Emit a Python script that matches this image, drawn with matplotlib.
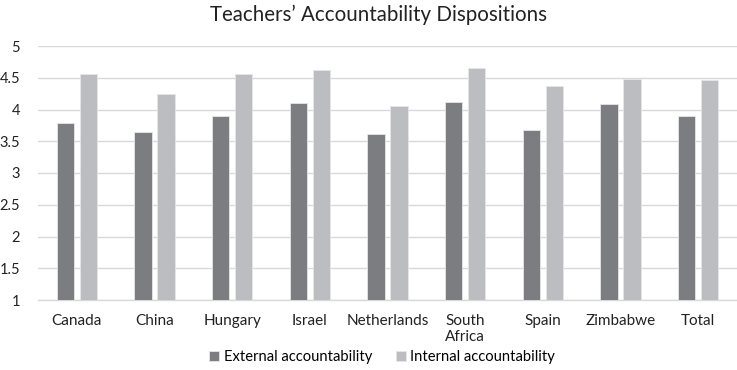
import matplotlib
matplotlib.use("Agg")
import matplotlib.pyplot as plt
import numpy as np

categories = ["Canada", "China", "Hungary", "Israel", "Netherlands", "South\nAfrica", "Spain", "Zimbabwe", "Total"]
external = [3.79, 3.65, 3.89, 4.10, 3.61, 4.12, 3.67, 4.09, 3.89]
internal = [4.56, 4.24, 4.56, 4.62, 4.05, 4.65, 4.37, 4.48, 4.46]
yticks = [1, 1.5, 2, 2.5, 3, 3.5, 4, 4.5, 5]
ytick_labels = ["1", "1.5", "2", "2.5", "3", "3.5", "4", "4.5", "5"]

plt.rcParams['font.family'] = ['Lato', 'DejaVu Sans']

fig = plt.figure(figsize=(7.37, 3.70), dpi=100)
ax = fig.add_axes([38/737, 1 - 300/370, 699/737, 254/370])

x = np.arange(len(categories))
w = 0.225
gap = 0.035
ax.bar(x - w/2 - gap, [v - 1 for v in external], w, bottom=1, color="#7c7d80",
       edgecolor="#e6e6e6", linewidth=0.6, label="External accountability", zorder=3)
ax.bar(x + w/2 + gap, [v - 1 for v in internal], w, bottom=1, color="#bcbdc0",
       edgecolor="#e6e6e6", linewidth=0.6, label="Internal accountability", zorder=3)

ax.set_xlim(-0.5, len(categories) - 0.5)
ax.set_ylim(1, 5)
ax.set_yticks(yticks)
ax.set_yticklabels(ytick_labels, fontsize=10.5, color="#222222")
ax.set_xticks(x)
ax.set_xticklabels(categories, fontsize=11, color="#222222", va="top", ha="center",
                   multialignment="left", linespacing=1.15)
ax.tick_params(axis="both", length=0)
ax.tick_params(axis="y", pad=13)
ax.tick_params(axis="x", pad=10)
ax.grid(axis="y", color="#d9d9d9", linewidth=1.0, zorder=0)
for s in ["top", "right", "left"]:
    ax.spines[s].set_visible(False)
ax.spines["bottom"].set_color("#d9d9d9")
ax.spines["bottom"].set_linewidth(1.0)

fig.text(378/737, 1 - 15/370, "Teachers\u2019 Accountability Dispositions", ha="center", va="center",
         fontsize=14.8, color="#222222")

fig.legend(loc="center", bbox_to_anchor=(382/737, 1 - 357/370), ncol=2, frameon=False,
           fontsize=10.6, handlelength=0.7, handleheight=0.7, handletextpad=0.3, columnspacing=1.6,
           borderpad=0, borderaxespad=0)

fig.savefig("out.png", dpi=100)
